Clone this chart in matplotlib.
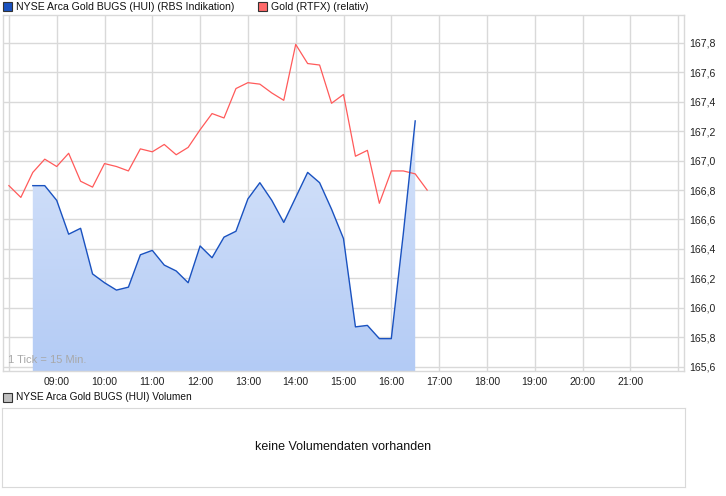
import matplotlib
matplotlib.use("Agg")
import matplotlib.pyplot as plt
import matplotlib.dates as mdates
from matplotlib.patches import Rectangle
from matplotlib.colors import LinearSegmentedColormap
import numpy as np
import pandas as pd

plt.rcParams['font.family'] = ['Liberation Sans', 'DejaVu Sans']

# Daten (15-Minuten-Takt)
hui_start = "2013-01-01 08:30"
hui = [166.83, 166.83, 166.73, 166.50, 166.54, 166.23, 166.17, 166.12, 166.14,
       166.36, 166.39, 166.29, 166.25, 166.17, 166.42, 166.34, 166.48, 166.52,
       166.74, 166.85, 166.73, 166.58, 166.75, 166.92, 166.85, 166.67, 166.47,
       165.87, 165.88, 165.79, 165.79, 166.50, 167.27]

gold_start = "2013-01-01 08:00"
gold = [166.83, 166.75, 166.92, 167.01, 166.96, 167.05, 166.86, 166.82, 166.98,
        166.96, 166.93, 167.08, 167.06, 167.11, 167.04, 167.09, 167.21, 167.32,
        167.29, 167.49, 167.53, 167.52, 167.46, 167.41, 167.79, 167.66, 167.65,
        167.39, 167.45, 167.03, 167.07, 166.71, 166.93, 166.93, 166.91, 166.80]

y_ticks = [165.6, 165.8, 166.0, 166.2, 166.4, 166.6, 166.8, 167.0, 167.2, 167.4, 167.6, 167.8]

t_hui = pd.date_range(hui_start, periods=len(hui), freq="15min")
t_gold = pd.date_range(gold_start, periods=len(gold), freq="15min")

W, H = 726, 496
fig = plt.figure(figsize=(W / 100, H / 100), dpi=100)

# Hauptchart
ax = fig.add_axes([3 / W, 1 - 371 / H, 681 / W, 356 / H])
x0 = mdates.date2num(pd.Timestamp("2013-01-01 08:00")) - 5.9 / 47.8 / 24
x1 = mdates.date2num(pd.Timestamp("2013-01-01 22:00")) + 5.9 / 47.8 / 24
ax.set_xlim(x0, x1)
ymin, ymax = 165.57, 167.99
ax.set_ylim(ymin, ymax)

hours = pd.date_range("2013-01-01 08:00", "2013-01-01 22:00", freq="1h")
ax.set_xticks(mdates.date2num(hours))
ax.set_xticklabels(["" if h.hour in (8, 22) else h.strftime("%H:%M") for h in hours])
ax.set_yticks(y_ticks)
ax.set_yticklabels([f"{v:.1f}".replace(".", ",") for v in y_ticks])
ax.yaxis.tick_right()
ax.tick_params(axis='both', length=0, labelsize=7.6, colors='#222222')
ax.tick_params(axis='x', pad=4)
ax.tick_params(axis='y', pad=4)
ax.grid(True, color='#d9d9d9', linewidth=1)
ax.set_axisbelow(True)
for s in ax.spines.values():
    s.set_color('#d9d9d9')
    s.set_linewidth(1)

# Flaeche mit Verlauf
xh = mdates.date2num(t_hui)
poly = ax.fill_between(xh, hui, ymin, color='none', linewidth=0)
cmap = LinearSegmentedColormap.from_list("blau", ["#b3cbf5", "#e6eefc"])
grad = np.linspace(0, 1, 256).reshape(-1, 1)
img = ax.imshow(grad, cmap=cmap, aspect='auto', origin='lower',
                extent=[x0, x1, ymin, ymax], zorder=1)
img.set_clip_path(poly.get_paths()[0], transform=ax.transData)

ax.plot(mdates.date2num(t_gold), gold, color='#ff5a5a', linewidth=0.9, zorder=3)
ax.plot(xh, hui, color='#1a52c0', linewidth=1.0, zorder=4)

ax.text(5 / 681, 6 / 356, "1 Tick = 15 Min.", transform=ax.transAxes,
        fontsize=8, color='#a8a8a8', ha='left', va='bottom')

# Legende oben
def legend_box(x, y, color, label, size):
    fig.add_artist(Rectangle((x / W, 1 - (y + 9) / H), 9 / W, 9 / H,
                             facecolor=color, edgecolor='#333333', linewidth=0.8,
                             transform=fig.transFigure))
    fig.text((x + 13) / W, 1 - (y + 4.5) / H, label, fontsize=size, va='center',
             ha='left', color='#111111')

legend_box(3, 2, '#1a52c0', "NYSE Arca Gold BUGS (HUI) (RBS Indikation)", 7.6)
legend_box(258, 2, '#ff6a6a', "Gold (RTFX) (relativ)", 7.6)

# Volumen-Panel
legend_box(3, 393, '#c0c0c0', "NYSE Arca Gold BUGS (HUI) Volumen", 7.3)
ax2 = fig.add_axes([2 / W, 1 - 487 / H, 683 / W, 79 / H])
ax2.set_xticks([])
ax2.set_yticks([])
for s in ax2.spines.values():
    s.set_color('#d9d9d9')
ax2.text(0.5, 0.5, "keine Volumendaten vorhanden", transform=ax2.transAxes,
         ha='center', va='center', fontsize=9, color='#111111')

fig.savefig("out.png", dpi=100)
